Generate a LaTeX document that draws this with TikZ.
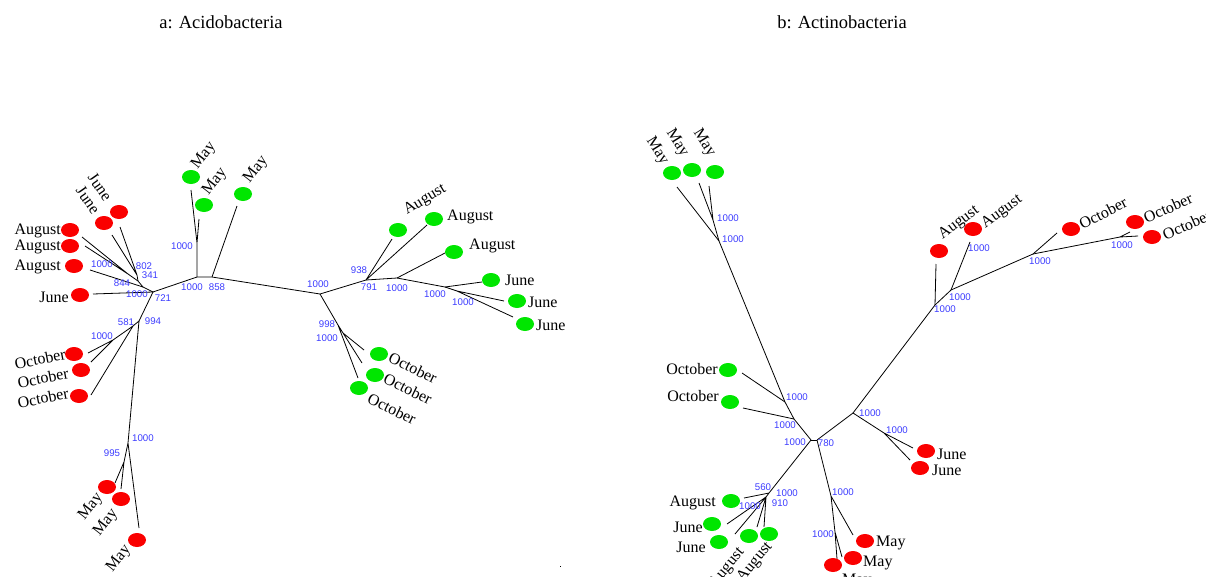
\documentclass[tikz,border=0pt]{standalone}
\usepackage{fontspec}
\setmainfont{Liberation Serif}
\newfontfamily\numfont{Liberation Sans}
\usetikzlibrary{shapes.geometric}
\definecolor{numblue}{RGB}{60,60,255}
\definecolor{dotred}{RGB}{250,0,0}
\definecolor{dotgreen}{RGB}{0,230,0}
\tikzset{
 edge/.style={line width=0.8pt},
 rdot/.style={ellipse,fill=dotred,minimum width=18pt,minimum height=14pt,inner sep=0pt},
 gdot/.style={ellipse,fill=dotgreen,minimum width=18pt,minimum height=14pt,inner sep=0pt},
 lab/.style={font=\fontsize{16}{18}\selectfont,inner sep=0pt},
 bs/.style={font=\numfont\fontsize{9.7}{10}\selectfont,text=numblue,inner sep=0pt},
 ttl/.style={font=\fontsize{18.5}{20}\selectfont,inner sep=0pt}
}
\begin{document}
\begin{tikzpicture}[x=1pt,y=-1pt]
 \useasboundingbox (0,0) rectangle (1206,576);
 \node[ttl] (ta) at (221,22) {a: Acidobacteria};
 \node[ttl] (tb) at (842,22) {b: Actinobacteria};
 %% a: Acidobacteria
 \coordinate (A1) at (153,292); %中心
 \coordinate (F1) at (143,287);
 \coordinate (F2) at (138,281);
 \coordinate (F3) at (128,274);
 \coordinate (G1) at (137,275);
 \coordinate (B1) at (197,277);
 \coordinate (B2) at (212,277);
 \coordinate (B3) at (197,243);
 \coordinate (C1) at (320,294);
 \coordinate (D1) at (366,280);
 \coordinate (D2) at (397,278);
 \coordinate (D3) at (445,287);
 \coordinate (D4) at (457,291);
 \coordinate (E1) at (338,325);
 \coordinate (E2) at (343,333);
 \coordinate (H1) at (139,321);
 \coordinate (H2) at (133,326);
 \coordinate (H3) at (113,340);
 \coordinate (K1) at (128,443);
 \coordinate (K2) at (124,462);
 %葉の端
 \coordinate (ea1) at (82,237);
 \coordinate (ea2) at (85,246);
 \coordinate (ea3) at (90,270);
 \coordinate (ej1) at (120,227);
 \coordinate (ej2) at (112,235);
 \coordinate (ejl) at (93,294);
 \coordinate (em1) at (191,190);
 \coordinate (em2) at (199,219);
 \coordinate (em3) at (237,206);
 \coordinate (eu1) at (392,239);
 \coordinate (eu2) at (427,225);
 \coordinate (eu3) at (445,253);
 \coordinate (en1) at (482,282);
 \coordinate (en2) at (504,301);
 \coordinate (en3) at (513,317);
 \coordinate (eo1) at (364,350);
 \coordinate (eo2) at (362,363);
 \coordinate (eo3) at (358,378);
 \coordinate (eo4) at (88,353);
 \coordinate (eo5) at (91,362);
 \coordinate (eo6) at (91,395);
 \coordinate (ey1) at (115,483);
 \coordinate (ey2) at (121,489);
 \coordinate (ey3) at (139,528);
 %枝
 \draw[edge] (A1)--(F1)--(F2)--(F3);
 \draw[edge] (F1)--(ea3);
 \draw[edge] (F3)--(ea1) (F3)--(ea2);
 \draw[edge] (F2)--(G1)--(ej1) (G1)--(ej2);
 \draw[edge] (A1)--(ejl);
 \draw[edge] (A1)--(B1)--(B2)--(C1);
 \draw[edge] (B1)--(B3)--(em1) (B3)--(em2);
 \draw[edge] (B2)--(em3);
 \draw[edge] (C1)--(D1)--(D2)--(D3)--(D4);
 \draw[edge] (D1)--(eu1) (D1)--(eu2) (D2)--(eu3);
 \draw[edge] (D3)--(en1) (D4)--(en2) (D4)--(en3);
 \draw[edge] (C1)--(E1)--(E2)--(eo1) (E2)--(eo2) (E1)--(eo3);
 \draw[edge] (A1)--(H1)--(H2)--(H3)--(eo4) (H3)--(eo5) (H2)--(eo6);
 \draw[edge] (H1)--(K1)--(K2)--(ey1) (K2)--(ey2) (K1)--(ey3);
 %点
 \node[rdot] (da1) at (70,230) {};
 \node[rdot] (da2) at (70,246) {};
 \node[rdot] (da3) at (74,266) {};
 \node[rdot] (dj1) at (119,212) {};
 \node[rdot] (dj2) at (104,223) {};
 \node[rdot] (djl) at (80,295) {};
 \node[gdot] (dm1) at (191,177) {};
 \node[gdot] (dm2) at (204,205) {};
 \node[gdot] (dm3) at (243,194) {};
 \node[gdot] (du1) at (398,230) {};
 \node[gdot] (du2) at (434,219) {};
 \node[gdot] (du3) at (454,252) {};
 \node[gdot] (dn1) at (491,280) {};
 \node[gdot] (dn2) at (517,301) {};
 \node[gdot] (dn3) at (525,324) {};
 \node[gdot] (do1) at (379,354) {};
 \node[gdot] (do2) at (375,375) {};
 \node[gdot] (do3) at (359,388) {};
 \node[rdot] (do4) at (74,354) {};
 \node[rdot] (do5) at (81,370) {};
 \node[rdot] (do6) at (79,396) {};
 \node[rdot] (dy1) at (107,487) {};
 \node[rdot] (dy2) at (121,499) {};
 \node[rdot] (dy3) at (137,540) {};
 %ラベル
 \node[lab,anchor=east] (la1) at (61,231) {August};
 \node[lab,anchor=east] (la2) at (61,247) {August};
 \node[lab,anchor=east] (la3) at (61,267) {August};
 \node[lab,anchor=east] (ljl) at (69,297) {June};
 \node[lab,rotate=-55] (lj1) at (100,187) {June};
 \node[lab,rotate=-55] (lj2) at (88,200) {June};
 \node[lab,rotate=52] (lm1) at (204,156) {May};
 \node[lab,rotate=52] (lm2) at (215,182) {May};
 \node[lab,rotate=52] (lm3) at (256,170) {May};
 \node[lab,rotate=31] (lu1) at (425,200) {August};
 \node[lab,anchor=west] (lu2) at (447,217) {August};
 \node[lab,anchor=west] (lu3) at (469,246) {August};
 \node[lab,anchor=west] (ln1) at (505,280) {June};
 \node[lab,anchor=west] (ln2) at (528,302) {June};
 \node[lab,anchor=west] (ln3) at (536,325) {June};
 \node[lab,rotate=-26] (lo1) at (413,368) {October};
 \node[lab,rotate=-26] (lo2) at (408,389) {October};
 \node[lab,rotate=-26] (lo3) at (392,409) {October};
 \node[lab,rotate=11] (lo4) at (40,359) {October};
 \node[lab,rotate=11] (lo5) at (43,378) {October};
 \node[lab,rotate=11] (lo6) at (43,398) {October};
 \node[lab,rotate=52] (ly1) at (91,507) {May};
 \node[lab,rotate=52] (ly2) at (106,523) {May};
 \node[lab,rotate=52] (ly3) at (119,559) {May};
 %ブートストラップ値
 \node[bs] (b1) at (137,294) {1000};
 \node[bs] (b2) at (163,298) {721};
 \node[bs] (b3) at (192,287) {1000};
 \node[bs] (b4) at (217,287) {858};
 \node[bs] (b5) at (182,246) {1000};
 \node[bs] (b6) at (122,283) {844};
 \node[bs] (b7) at (102,264) {1000};
 \node[bs] (b8) at (144,266) {802};
 \node[bs] (b9) at (150,275) {341};
 \node[bs] (b10) at (126,322) {581};
 \node[bs] (b11) at (153,321) {994};
 \node[bs] (b12) at (102,336) {1000};
 \node[bs] (b13) at (143,438) {1000};
 \node[bs] (b14) at (112,453) {995};
 \node[bs] (b15) at (318,284) {1000};
 \node[bs] (b16) at (359,270) {938};
 \node[bs] (b17) at (369,287) {791};
 \node[bs] (b18) at (397,288) {1000};
 \node[bs] (b19) at (435,294) {1000};
 \node[bs] (b20) at (463,302) {1000};
 \node[bs] (b21) at (327,324) {998};
 \node[bs] (b22) at (327,338) {1000};
 \fill (559.5,565.5) rectangle (561,567); %点
 %% b: Actinobacteria
 \coordinate (R0a) at (811,440); %中心
 \coordinate (R0b) at (817,440);
 \coordinate (S1) at (794,419);
 \coordinate (S2) at (785,402);
 \coordinate (T1) at (719,241);
 \coordinate (T2) at (713,220);
 \coordinate (U1) at (853,413);
 \coordinate (U2) at (884,433);
 \coordinate (V1) at (935,305);
 \coordinate (V2) at (951,290);
 \coordinate (W1) at (1033,254);
 \coordinate (W2) at (1120,237);
 \coordinate (X1) at (831,496);
 \coordinate (X2) at (835,532);
 \coordinate (Y1) at (769,493);
 \coordinate (Y2) at (766,497);
 %葉の端
 \coordinate (eo7) at (743,408);
 \coordinate (eo8) at (742,373);
 \coordinate (ey4) at (677,187);
 \coordinate (ey5) at (699,183);
 \coordinate (ey6) at (709,186);
 \coordinate (ej3) at (913,448);
 \coordinate (ej4) at (910,460);
 \coordinate (eu4) at (936,264);
 \coordinate (eu5) at (970,242);
 \coordinate (eo9) at (1057,233);
 \coordinate (eo10) at (1130,232);
 \coordinate (eo11) at (1138,236);
 \coordinate (ey7) at (853,535);
 \coordinate (ey8) at (842,557);
 \coordinate (ey9) at (837,559);
 \coordinate (eu6) at (744,498);
 \coordinate (ej5) at (727,524);
 \coordinate (ej6) at (735,534);
 \coordinate (eu7) at (757,527);
 \coordinate (eu8) at (764,527);
 %枝
 \draw[edge] (R0a)--(R0b);
 \draw[edge] (R0a)--(S1)--(S2)--(T1)--(T2);
 \draw[edge] (S1)--(eo7) (S2)--(eo8);
 \draw[edge] (T1)--(ey4) (T2)--(ey5) (T2)--(ey6);
 \draw[edge] (R0b)--(U1)--(U2)--(ej3) (U2)--(ej4);
 \draw[edge] (U1)--(V1)--(V2)--(W1)--(W2);
 \draw[edge] (V1)--(eu4) (V2)--(eu5);
 \draw[edge] (W1)--(eo9) (W2)--(eo10) (W2)--(eo11);
 \draw[edge] (R0b)--(X1)--(X2)--(ey8) (X2)--(ey9) (X1)--(ey7);
 \draw[edge] (R0a)--(Y1)--(eu6) (Y1)--(Y2);
 \draw[edge] (Y2)--(ej5) (Y2)--(ej6) (Y2)--(eu7) (Y2)--(eu8);
 %点
 \node[gdot] (do7) at (730,402) {};
 \node[gdot] (do8) at (728,370) {};
 \node[gdot] (dy4) at (672,173) {};
 \node[gdot] (dy5) at (692,170) {};
 \node[gdot] (dy6) at (715,172) {};
 \node[rdot] (dj3) at (926,451) {};
 \node[rdot] (dj4) at (920,468) {};
 \node[rdot] (du4) at (939,251) {};
 \node[rdot] (du5) at (973,229) {};
 \node[rdot] (do9) at (1071,229) {};
 \node[rdot] (do10) at (1135,222) {};
 \node[rdot] (do11) at (1152,237) {};
 \node[rdot] (dy7) at (865,541) {};
 \node[rdot] (dy8) at (853,558) {};
 \node[rdot] (dy9) at (833,565) {};
 \node[gdot] (du6) at (731,501) {};
 \node[gdot] (dj5) at (712,524) {};
 \node[gdot] (dj6) at (719,542) {};
 \node[gdot] (du7) at (749,536) {};
 \node[gdot] (du8) at (769,534) {};
 %ラベル
 \node[lab,anchor=east] (lo7) at (719,396) {October};
 \node[lab,anchor=east] (lo8) at (718,369) {October};
 \node[lab,rotate=-58] (ly4) at (657,151) {May};
 \node[lab,rotate=-58] (ly5) at (677,143) {May};
 \node[lab,rotate=-58] (ly6) at (704,143) {May};
 \node[lab,anchor=west] (lj3) at (937,454) {June};
 \node[lab,anchor=west] (lj4) at (932,470) {June};
 \node[lab,rotate=37] (lu4) at (959,223) {August};
 \node[lab,rotate=36] (lu5) at (1002,212) {August};
 \node[lab,rotate=27] (lo9) at (1103,213) {October};
 \node[lab,rotate=24] (lo10) at (1168,208) {October};
 \node[lab,rotate=24] (lo11) at (1187,225) {October};
 \node[lab,anchor=west] (ly7) at (876,543) {May};
 \node[lab,anchor=west] (ly8) at (863,563) {May};
 \node[lab,anchor=west] (ly9) at (842,581) {May};
 \node[lab,anchor=east] (lu6) at (716,503) {August};
 \node[lab,anchor=east] (lj5) at (703,527) {June};
 \node[lab,anchor=east] (lj6) at (706,547) {June};
 \node[lab,rotate=50] (lu7) at (727,568) {August};
 \node[lab,rotate=50] (lu8) at (755,562) {August};
 %ブートストラップ値
 \node[bs] (b23) at (733,239) {1000};
 \node[bs] (b24) at (728,218) {1000};
 \node[bs] (b25) at (797,397) {1000};
 \node[bs] (b26) at (785,425) {1000};
 \node[bs] (b27) at (795,442) {1000};
 \node[bs] (b28) at (826,443) {780};
 \node[bs] (b29) at (870,413) {1000};
 \node[bs] (b30) at (897,430) {1000};
 \node[bs] (b31) at (945,309) {1000};
 \node[bs] (b32) at (960,297) {1000};
 \node[bs] (b33) at (979,248) {1000};
 \node[bs] (b34) at (1040,261) {1000};
 \node[bs] (b35) at (1122,245) {1000};
 \node[bs] (b36) at (843,492) {1000};
 \node[bs] (b37) at (823,534) {1000};
 \node[bs] (b38) at (763,487) {560};
 \node[bs] (b39) at (787,493) {1000};
 \node[bs] (b40) at (750,506) {1000};
 \node[bs] (b41) at (780,503) {910};
\end{tikzpicture}
\end{document}
